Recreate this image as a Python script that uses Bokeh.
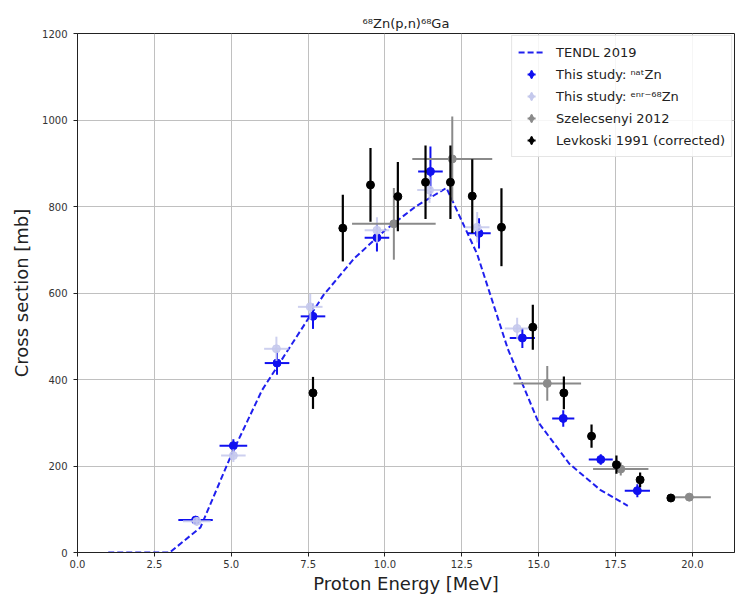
from bokeh.plotting import figure
from bokeh.models import Range1d, FixedTicker, PrintfTickFormatter, Legend, LegendItem
from bokeh.embed import file_html
from bokeh.resources import INLINE

# ---- data ----
tendl_e = [1, 2, 3, 4, 5, 6, 7, 8, 9, 10, 11, 12, 13, 14, 15, 16, 17, 17.9]
tendl_xs = [0, 0, 0, 58, 225, 375, 485, 595, 680, 745, 800, 843, 690, 470, 300, 205, 145, 108]

nat_e = [3.84, 5.07, 6.49, 7.66, 9.74, 11.48, 13.06, 14.47, 15.80, 17.02, 18.21]
nat_xs = [75, 247, 438, 546, 728, 881, 738, 496, 310, 215, 143]
nat_de = [0.56, 0.45, 0.40, 0.40, 0.40, 0.40, 0.38, 0.41, 0.36, 0.39, 0.41]
nat_dxs = [5, 15, 27, 29, 32, 58, 35, 23, 19, 12, 15]

enr_e = [3.88, 5.07, 6.47, 7.57, 9.74, 11.45, 13.00, 14.30]
enr_xs = [72, 224, 471, 568, 745, 838, 752, 518]
enr_de = [0.45, 0.40, 0.40, 0.40, 0.40, 0.40, 0.40, 0.40]
enr_dxs = [10, 15, 28, 30, 30, 30, 35, 25]

sz_e = [10.29, 12.19, 15.28, 17.67, 19.90]
sz_xs = [760, 910, 391, 193, 128]
sz_de = [1.36, 1.30, 1.10, 0.90, 0.70]
sz_dxs = [83, 98, 40, 15, 8]

lev_e = [7.66, 8.63, 9.53, 10.42, 11.32, 12.13, 12.84, 13.79, 14.81, 15.82, 16.72, 17.53, 18.30, 19.30]
lev_xs = [369, 750, 850, 823, 856, 856, 824, 752, 521, 369, 269, 203, 168, 126]
lev_dxs = [37, 77, 85, 80, 85, 85, 85, 90, 52, 38, 27, 21, 17, 8]

x_ticks = [0, 2.5, 5, 7.5, 10, 12.5, 15, 17.5, 20]
y_ticks = [0, 200, 400, 600, 800, 1000, 1200]

FONT = "DejaVu Sans"
BLUE = "#1010f0"
LIGHT = "#c4c8ec"
GRAY = "#8a8a8a"
BLACK = "#000000"
NAN = float("nan")

p = figure(width=735, height=596, output_backend="svg", toolbar_location=None,
           x_range=Range1d(0, 21.37), y_range=Range1d(0, 1200),
           min_border_left=77, min_border_right=1, min_border_top=33, min_border_bottom=44,
           title="\u2076\u2078Zn(p,n)\u2076\u2078Ga")

p.title.align = "center"
p.title.text_font = FONT
p.title.text_font_size = "13px"
p.title.text_font_style = "normal"
p.title.text_color = "#222222"
p.title.standoff = 6

p.outline_line_color = "#222222"
p.outline_line_width = 1
p.background_fill_color = "white"
p.border_fill_color = "white"

for ax in (p.xaxis[0], p.yaxis[0]):
    ax.axis_label_text_font = FONT
    ax.axis_label_text_font_size = "18px"
    ax.axis_label_text_font_style = "normal"
    ax.axis_label_text_color = "#222222"
    ax.major_label_text_font = FONT
    ax.major_label_text_font_size = "10px"
    ax.major_label_text_color = "#333333"
    ax.minor_tick_line_color = None
    ax.major_tick_in = 0
    ax.major_tick_out = 4
    ax.major_tick_line_color = "#222222"
    ax.axis_line_color = "#222222"

p.xaxis.axis_label = "Proton Energy [MeV]"
p.yaxis.axis_label = "Cross section [mb]"
p.xaxis.ticker = FixedTicker(ticks=x_ticks)
p.yaxis.ticker = FixedTicker(ticks=y_ticks)
p.xaxis.formatter = PrintfTickFormatter(format="%.1f")
p.yaxis.formatter = PrintfTickFormatter(format="%d")
p.xaxis.major_label_standoff = 3
p.yaxis.major_label_standoff = 6
p.xaxis.axis_label_standoff = 2
p.yaxis.axis_label_standoff = 7

p.grid.grid_line_color = "#c0c0c0"
p.grid.grid_line_width = 1

# TENDL curve
tendl = p.line(tendl_e, tendl_xs, line_color="#2020ee", line_width=2, line_dash="6 3")


def errorbars(e, xs, de, dxs, color, width, alpha=1.0):
    if de is not None:
        p.segment(x0=[a - b for a, b in zip(e, de)], y0=xs,
                  x1=[a + b for a, b in zip(e, de)], y1=xs,
                  line_color=color, line_width=width, line_alpha=alpha)
    p.segment(x0=e, y0=[a - b for a, b in zip(xs, dxs)],
              x1=e, y1=[a + b for a, b in zip(xs, dxs)],
              line_color=color, line_width=width, line_alpha=alpha)


# natZn
errorbars(nat_e, nat_xs, nat_de, nat_dxs, BLUE, 2)
p.scatter(nat_e, nat_xs, size=8, marker="circle", fill_color=BLUE, line_color=BLUE)

# enriched 68Zn
errorbars(enr_e, enr_xs, enr_de, enr_dxs, LIGHT, 2, 0.85)
p.scatter(enr_e, enr_xs, size=8, marker="circle", fill_color=LIGHT, line_color=LIGHT, alpha=0.85)

# Szelecsenyi 2012
errorbars(sz_e, sz_xs, sz_de, sz_dxs, GRAY, 2)
p.scatter(sz_e, sz_xs, size=8, marker="circle", fill_color=GRAY, line_color=GRAY)

# Levkoski 1991
errorbars(lev_e, lev_xs, None, lev_dxs, BLACK, 2.2)
p.scatter(lev_e, lev_xs, size=8, marker="circle", fill_color=BLACK, line_color=BLACK)


# legend-only glyphs (NaN position, never drawn in the plot area)
def legend_glyphs(color):
    d = p.scatter(x=[NAN], y=[NAN], marker="diamond", fill_color=color, line_color=color, line_width=1)
    c = p.scatter(x=[NAN], y=[NAN], marker="cross", line_color=color, line_width=2)
    return [d, c]


legend = Legend(items=[
    LegendItem(label="TENDL 2019", renderers=[tendl]),
    LegendItem(label="This study: \u207f\u1d43\u1d57Zn", renderers=legend_glyphs(BLUE)),
    LegendItem(label="This study: \u1d49\u207f\u02b3\u207b\u2076\u2078Zn", renderers=legend_glyphs(LIGHT)),
    LegendItem(label="Szelecsenyi 2012", renderers=legend_glyphs(GRAY)),
    LegendItem(label="Levkoski 1991 (corrected)", renderers=legend_glyphs(BLACK)),
], location="top_right")
legend.label_text_font = FONT
legend.label_text_font_size = "13px"
legend.label_text_color = "#222222"
legend.glyph_width = 26
legend.glyph_height = 20
legend.label_height = 20
legend.label_standoff = 12
legend.spacing = 2
legend.padding = 6
legend.margin = 2
legend.border_line_color = "#cccccc"
legend.border_line_width = 1
legend.background_fill_alpha = 0.85
p.add_layout(legend)

open("out.html", "w").write(file_html(p, INLINE))
